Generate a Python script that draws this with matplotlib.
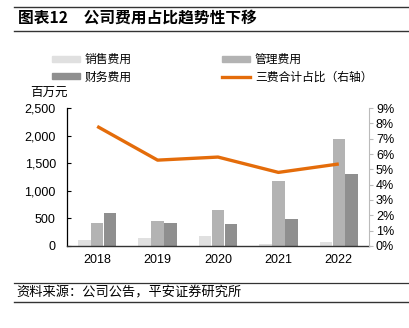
import matplotlib
matplotlib.use("Agg")
import matplotlib.pyplot as plt
import numpy as np
from matplotlib.patches import Patch
from matplotlib.lines import Line2D

plt.rcParams['font.family'] = ['Liberation Sans', 'Noto Sans CJK SC', 'DejaVu Sans']

years = ['2018', '2019', '2020', '2021', '2022']
sales = [110, 150, 175, 42, 67]
admin = [410, 453, 652, 1182, 1943]
finance = [590, 410, 393, 483, 1303]
ratio = [7.8, 5.6, 5.8, 4.8, 5.35]

series_names = ['销售费用', '管理费用', '财务费用', '三费合计占比（右轴）']
title = '图表12　公司费用占比趋势性下移'
source = '资料来源：公司公告，平安证券研究所'
unit = '百万元'

c_sales = '#E0E0E0'
c_admin = '#B3B3B3'
c_fin = '#8F8F8F'
c_line = '#E46C0A'

fig = plt.figure(figsize=(4.10, 3.28), dpi=100)
ax = fig.add_axes([67/410, 1-246/328, (369-67)/410, (246-108)/328])
ax2 = ax.twinx()

x = np.arange(len(years))
w = 0.215
ax.bar(x - w, sales, w*0.97, color=c_sales, zorder=2)
ax.bar(x, admin, w*0.97, color=c_admin, zorder=2)
ax.bar(x + w, finance, w*0.97, color=c_fin, zorder=2)
ax2.plot(x, ratio, color=c_line, lw=2.4, solid_capstyle='butt', zorder=3)

ax.set_xlim(-0.5, 4.5)
ax.set_ylim(0, 2500)
ax.set_yticks([0, 500, 1000, 1500, 2000, 2500])
ax.set_yticklabels(['0', '500', '1,000', '1,500', '2,000', '2,500'])
ax.set_xticks(x)
ax.set_xticklabels(years)
ax2.set_ylim(0, 9)
ax2.set_yticks(range(0, 10))
ax2.set_yticklabels([f'{i}%' for i in range(10)])

for a in (ax, ax2):
    a.spines['top'].set_visible(False)
ax.spines['right'].set_visible(False)
ax2.spines['left'].set_visible(False)
ax2.spines['bottom'].set_visible(False)
ax.spines['left'].set_color('black')
ax.spines['left'].set_linewidth(0.9)
ax.spines['bottom'].set_color('#333333')
ax.spines['bottom'].set_linewidth(1.0)
ax2.spines['right'].set_color('#BBBBBB')
ax2.spines['right'].set_linewidth(0.8)

ax.tick_params(axis='y', direction='in', length=3, width=0.8, colors='black', labelsize=9, pad=8)
ax.tick_params(axis='x', length=0, labelsize=9, pad=6)
ax2.tick_params(axis='y', direction='out', length=3, width=0.8, color='#BBBBBB', labelcolor='black', labelsize=9, pad=2)

handles = [Patch(color=c_sales), Patch(color=c_fin), Patch(color=c_admin),
           Line2D([0], [0], color=c_line, lw=2.4)]
labels = [series_names[0], series_names[2], series_names[1], series_names[3]]
fig.legend(handles, labels, ncol=2, loc='upper left', bbox_to_anchor=(52/410, 1-53/328),
           frameon=False, handlelength=2.4, handleheight=0.45,
           handletextpad=0.4, columnspacing=7.6, labelspacing=0.38,
           borderaxespad=0, borderpad=0,
           prop={'family': ['Noto Sans CJK SC'], 'size': 8.5})

fig.text(30/410, 1-92/328, unit, fontsize=9, family=['Noto Sans CJK SC'], va='center', ha='left')

fig.text(18/410, 1-18/328, title, fontsize=11.3, fontweight='bold', family=['Noto Sans CJK SC'],
         va='center', ha='left')
fig.add_artist(Line2D([14/410, 1], [1-7/328, 1-7/328], color='#333333', lw=1.0))
fig.add_artist(Line2D([14/410, 1], [1-31/328, 1-31/328], color='#333333', lw=1.0))

fig.text(16/410, 1-293/328, source, fontsize=9.5, family=['Noto Sans CJK SC'], style='italic',
         va='center', ha='left')
fig.add_artist(Line2D([14/410, 1], [1-283/328, 1-283/328], color='#333333', lw=0.9))
fig.add_artist(Line2D([14/410, 1], [1-302/328, 1-302/328], color='#333333', lw=1.0))

fig.savefig('out.png', dpi=100)
